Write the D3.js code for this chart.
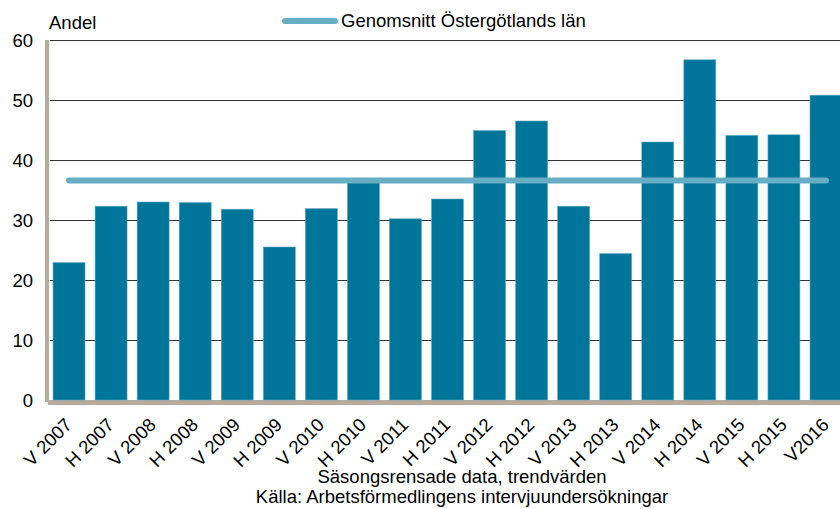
<!DOCTYPE html>
<html>
<head>
<meta charset="utf-8">
<script src="https://cdn.jsdelivr.net/npm/d3@7"></script>
<style>
  body { margin: 0; background: #fff; }
  svg { font-family: "Liberation Sans", Arial, sans-serif; }
</style>
</head>
<body>
<div id="chart"></div>
<script>
// categories (half years)
var periods = ["V 2007", "H 2007", "V 2008", "H 2008", "V 2009", "H 2009", "V 2010", "H 2010",
  "V 2011", "H 2011", "V 2012", "H 2012", "V 2013", "H 2013", "V 2014", "H 2014",
  "V 2015", "H 2015", "V2016"];
// andel per period
var andel = [22.9, 32.3, 33.0, 32.9, 31.8, 25.5, 31.9, 36.9, 30.2, 33.5, 44.9, 46.5,
  32.3, 24.4, 43.0, 56.7, 44.1, 44.2, 50.8];
// average for the county
var genomsnitt = [36.6, 36.6, 36.6, 36.6, 36.6, 36.6, 36.6, 36.6, 36.6, 36.6, 36.6, 36.6,
  36.6, 36.6, 36.6, 36.6, 36.6, 36.6, 36.6];
var yTicks = [0, 10, 20, 30, 40, 50, 60];

var width = 840, height = 509;
var fs = "18.5px";

var svg = d3.select("#chart").append("svg")
  .attr("width", width)
  .attr("height", height);

// scales - the plot runs past the right edge like in the original
var x = d3.scaleBand()
  .domain(periods)
  .range([48, 847])
  .paddingInner(0.24)
  .paddingOuter(0.12);

var y = d3.scaleLinear()
  .domain([0, 60])
  .range([400, 40]);

// gridlines
svg.append("g")
  .selectAll("line")
  .data(yTicks.filter(function(d) { return d > 0; }))
  .join("line")
    .attr("x1", 50)
    .attr("x2", width)
    .attr("y1", function(d) { return Math.round(y(d)) + 0.5; })
    .attr("y2", function(d) { return Math.round(y(d)) + 0.5; })
    .attr("stroke", "#333")
    .attr("stroke-width", 1);

// 3d-ish wall and floor
svg.append("rect")
  .attr("x", 45).attr("y", y(60))
  .attr("width", 4).attr("height", y(0) - y(60) + 2)
  .attr("fill", "#b5ab9f");
svg.append("rect")
  .attr("x", 48).attr("y", y(0))
  .attr("width", width - 48).attr("height", 5)
  .attr("fill", "#b5ab9f");

// y axis labels
var yAxis = svg.append("g")
  .attr("transform", "translate(33,0)")
  .call(d3.axisLeft(y).tickValues(yTicks).tickSize(0).tickPadding(0).tickFormat(d3.format("d")));
yAxis.select(".domain").remove();
yAxis.selectAll("text")
  .attr("font-size", fs)
  .attr("font-family", "'Liberation Sans', Arial, sans-serif")
  .attr("fill", "#000")
  .attr("dy", "0.36em");

// bars
svg.append("g")
  .selectAll("rect")
  .data(andel)
  .join("rect")
    .attr("x", function(d, i) { return x(periods[i]); })
    .attr("y", function(d) { return y(d); })
    .attr("width", x.bandwidth())
    .attr("height", function(d) { return y(0) - y(d); })
    .attr("fill", "#00759a")
    .attr("stroke", "#5fa9c2")
    .attr("stroke-width", 0.6);

// average line
svg.append("path")
  .datum(genomsnitt)
  .attr("fill", "none")
  .attr("stroke", "#67aec4")
  .attr("stroke-width", 6)
  .attr("stroke-linecap", "round")
  .attr("d", d3.line()
    .x(function(d, i) { return x(periods[i]) + x.bandwidth() / 2; })
    .y(function(d) { return y(d); }));

// x axis labels, rotated
var xAxis = svg.append("g")
  .attr("transform", "translate(0,405)")
  .call(d3.axisBottom(x).tickSize(0).tickPadding(0));
xAxis.select(".domain").remove();
xAxis.selectAll("text")
  .attr("font-size", fs)
  .attr("font-family", "'Liberation Sans', Arial, sans-serif")
  .attr("fill", "#000")
  .attr("text-anchor", "end")
  .attr("dy", null)
  .attr("y", 0)
  .attr("transform", "translate(4,21) rotate(-45)");

// y title
svg.append("text")
  .attr("x", 49).attr("y", 29)
  .attr("font-size", fs)
  .text("Andel");

// legend
svg.append("line")
  .attr("x1", 285).attr("x2", 335)
  .attr("y1", 21).attr("y2", 21)
  .attr("stroke", "#67aec4")
  .attr("stroke-width", 6)
  .attr("stroke-linecap", "round");
svg.append("text")
  .attr("x", 341).attr("y", 27)
  .attr("font-size", fs)
  .text("Genomsnitt Östergötlands län");

// footnotes
svg.append("text")
  .attr("x", 462).attr("y", 483)
  .attr("text-anchor", "middle")
  .attr("font-size", fs)
  .text("Säsongsrensade data, trendvärden");
svg.append("text")
  .attr("x", 462).attr("y", 503)
  .attr("text-anchor", "middle")
  .attr("font-size", fs)
  .text("Källa: Arbetsförmedlingens intervjuundersökningar");
</script>
</body>
</html>
